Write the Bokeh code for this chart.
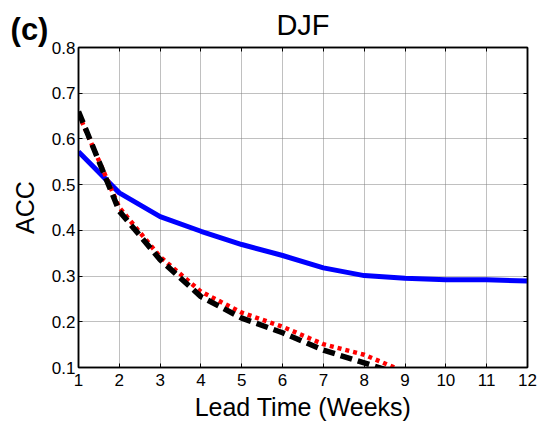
import math
from bokeh.plotting import figure
from bokeh.layouts import row
from bokeh.models import Range1d, LinearAxis, Label, FixedTicker, CustomJSTickFormatter
from bokeh.embed import file_html
from bokeh.resources import INLINE

weeks = [1, 2, 3, 4, 5, 6, 7, 8, 9, 10, 11, 12]
blue_acc = [0.572, 0.482, 0.430, 0.398, 0.369, 0.345, 0.318, 0.301, 0.295, 0.292, 0.292, 0.289]
black_weeks = [1, 2, 3, 4, 5, 6, 7, 8, 9]
black_acc = [0.660, 0.442, 0.336, 0.255, 0.208, 0.176, 0.138, 0.110, 0.082]
red_weeks = [1, 2, 3, 4, 5, 6, 7, 8, 9]
red_acc = [0.655, 0.450, 0.342, 0.266, 0.220, 0.189, 0.151, 0.128, 0.090]
x_ticks = [1, 2, 3, 4, 5, 6, 7, 8, 9, 10, 11, 12]
y_ticks = [0.1, 0.2, 0.3, 0.4, 0.5, 0.6, 0.7, 0.8]

FONT = "Liberation Sans"
H = 425
LW = 48

# left strip holding the panel letter and the y-axis title
left = figure(width=LW, height=H, output_backend="svg", toolbar_location=None,
              x_range=Range1d(0, LW), y_range=Range1d(0, H), title=None,
              x_axis_type=None, y_axis_type=None, min_border=0)
left.frame_align = False
left.outline_line_color = None
left.grid.visible = False
left.add_layout(Label(x=29, y=H - 29, text="(c)", text_font=FONT, text_font_size="31px",
                      text_font_style="bold", text_align="center", text_baseline="alphabetic",
                      text_color="black"))
left.add_layout(Label(x=24, y=H - 207, text="ACC", angle=math.pi / 2, text_font=FONT,
                      text_font_size="25px", text_align="center", text_baseline="middle",
                      text_color="black"))

p = figure(width=538 - LW, height=H, output_backend="svg", toolbar_location=None,
           x_range=Range1d(1, 12), y_range=Range1d(0.1, 0.8),
           min_border_left=77 - LW, min_border_right=11, min_border_top=46, min_border_bottom=58)
p.frame_align = False
p.outline_line_color = "black"
p.outline_line_width = 1.5
p.background_fill_color = "white"
p.border_fill_color = "white"

p.title.text = "DJF"
p.title.text_font = FONT
p.title.text_font_size = "29px"
p.title.text_font_style = "normal"
p.title.text_color = "black"
p.title.align = "center"
p.title.standoff = 13

for ax in (p.xaxis[0], p.yaxis[0]):
    ax.major_label_text_font = FONT
    ax.major_label_text_font_size = "17px"
    ax.major_label_text_color = "black"
    ax.axis_label_text_font = FONT
    ax.axis_label_text_font_size = "25px"
    ax.axis_label_text_font_style = "normal"
    ax.axis_label_text_color = "black"
    ax.axis_line_color = "black"
    ax.axis_line_width = 1.5
    ax.major_tick_in = 4
    ax.major_tick_out = 0
    ax.minor_tick_line_color = None
p.xaxis.ticker = FixedTicker(ticks=x_ticks)
p.yaxis.ticker = FixedTicker(ticks=y_ticks)
p.xaxis.axis_label = "Lead Time (Weeks)"
p.xaxis.major_label_standoff = 6
p.yaxis.major_label_standoff = 3
p.xaxis.axis_label_standoff = 4

blank = CustomJSTickFormatter(code="return ''")
for loc in ("right", "above"):
    a = LinearAxis(ticker=FixedTicker(ticks=x_ticks if loc == "above" else y_ticks),
                   formatter=blank, major_label_standoff=0,
                   major_tick_in=4, major_tick_out=0,
                   minor_tick_line_color=None, axis_line_color="black", axis_line_width=1.5)
    p.add_layout(a, loc)

p.xgrid.grid_line_color = "#808080"
p.ygrid.grid_line_color = "#808080"
p.xgrid.grid_line_dash = "1 1"
p.ygrid.grid_line_dash = "1 1"
p.xgrid.grid_line_width = 1
p.ygrid.grid_line_width = 1

p.line(weeks, blue_acc, line_color="#0000ff", line_width=5)
p.line(red_weeks, red_acc, line_color="#ff0000", line_width=4.5, line_dash="4 4")
p.line(black_weeks, black_acc, line_color="black", line_width=5.5, line_dash="12 6")

layout = row(left, p, spacing=0)
open("out.html", "w").write(file_html(layout, INLINE))
